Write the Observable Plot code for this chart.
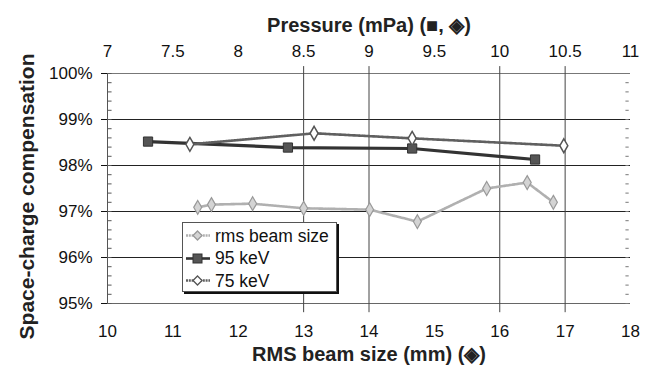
<!DOCTYPE html>
<html><head><meta charset="utf-8">
<script src="https://cdn.jsdelivr.net/npm/d3@7"></script>
<script src="https://cdn.jsdelivr.net/npm/@observablehq/plot@0.6"></script>
<style>
body{margin:0;background:#fff;font-family:"Liberation Sans",Arial,sans-serif}
#wrap{position:relative;width:654px;height:385px}
#legend{position:absolute;left:182px;top:222px;width:153px;height:68px;border:1px solid #555;box-shadow:2px 2px 0 #111;background:#fff;font-size:17.5px;color:#111}
#legend div{position:absolute;left:0;height:22px;display:flex;align-items:center}
#legend svg{margin-right:2px}
</style></head><body><div id="wrap"></div>
<script>
// RMS beam size series (bottom axis, mm)
const rmsSize = [11.38, 11.59, 12.22, 13.00, 14.01, 14.74, 15.80, 16.42, 16.82];
const rmsComp = [97.09, 97.15, 97.17, 97.07, 97.04, 96.78, 97.50, 97.63, 97.20];
// 95 keV and 75 keV series (top axis, pressure mPa)
const p95 = [7.31, 8.38, 9.33, 10.27];
const c95 = [98.52, 98.39, 98.37, 98.13];
const p75 = [7.63, 8.58, 9.33, 10.49];
const c75 = [98.46, 98.70, 98.59, 98.43];
// axes
const mmTicks = [10, 11, 12, 13, 14, 15, 16, 17, 18];
const pressureTicks = [7, 7.5, 8, 8.5, 9, 9.5, 10, 10.5, 11];
const yTicks = [95, 96, 97, 98, 99, 100];
const vGrid = [13, 14, 16, 17];
const hGrid = [96, 97, 98, 99];
const yMinor = d3.range(95, 100.001, 0.2);
const seriesNames = ["rms beam size", "95 keV", "75 keV"];

// both axes share the same pixel span: 7..11 mPa <-> 10..18 mm
const pToMm = p => 10 + (p - 7) * 2;
const mmToP = m => 7 + (m - 10) / 2;

const rms = rmsSize.map((x, i) => ({x, y: rmsComp[i]}));
const k95 = p95.map((p, i) => ({x: pToMm(p), y: c95[i]}));
const k75 = p75.map((p, i) => ({x: pToMm(p), y: c75[i]}));

const plot = Plot.plot({
  width: 654, height: 385,
  marginLeft: 107, marginRight: 24, marginTop: 73, marginBottom: 82,
  style: {fontFamily: '"Liberation Sans", Arial, sans-serif', fontSize: "17px", color: "#111", background: "#fff"},
  x: {domain: [10, 18]},
  y: {domain: [95, 100]},
  marks: [
    Plot.ruleY(hGrid, {stroke: "#222", strokeWidth: 1.2, strokeOpacity: 1}),
    Plot.ruleY([100], {stroke: "#777", strokeWidth: 1}),
    Plot.ruleY([95], {stroke: "#666", strokeWidth: 1}),
    Plot.ruleX(vGrid, {y1: 94.8, y2: 100.15, stroke: "#444", strokeWidth: 1}),
    Plot.ruleX([10], {stroke: "#555", strokeWidth: 1}),
    Plot.ruleY(yMinor, {x1: 10, x2: 10.07, stroke: "#555"}),
    Plot.ruleY(yMinor, {x1: 17.93, x2: 17.98, stroke: "#777"}),
    Plot.axisY(yTicks, {anchor: "left", tickSize: 6, tickPadding: 9, tickFormat: d => d + "%", label: null, fontSize: 17}),
    Plot.axisX(mmTicks, {anchor: "bottom", tickSize: 0, tickPadding: 21, label: null, fontSize: 17}),
    Plot.axisX(pressureTicks.map(pToMm), {anchor: "top", tickSize: 0, tickPadding: 17, tickFormat: d => String(mmToP(d)), label: null, fontSize: 17}),
    // rms beam size
    Plot.line(rms, {x: "x", y: "y", stroke: "#b0b0b0", strokeWidth: 2.6, strokeDasharray: "2 0.8"}),
    Plot.dot(rms, {x: "x", y: "y", symbol: "diamond", r: 4.2, fill: "#d4d4d4", stroke: "#999", strokeWidth: 1.2}),
    // 95 keV
    Plot.line(k95, {x: "x", y: "y", stroke: "#333", strokeWidth: 3.2}),
    Plot.dot(k95, {x: "x", y: "y", symbol: "square", r: 5.2, fill: "#555", stroke: "#333", strokeWidth: 1}),
    // 75 keV
    Plot.line(k75, {x: "x", y: "y", stroke: "#606060", strokeWidth: 2.6, strokeDasharray: "2 0.8"}),
    Plot.dot(k75, {x: "x", y: "y", symbol: "diamond", r: 4.2, fill: "#fff", stroke: "#555", strokeWidth: 1.5}),
    // titles
    Plot.text(["Pressure (mPa) (\u25A0, \u25C8)"], {frameAnchor: "top", dy: -56, fontWeight: "bold", fontSize: 20, fill: "#222"}),
    Plot.text(["RMS beam size (mm) (\u25C8)"], {frameAnchor: "bottom", dy: 57, fontWeight: "bold", fontSize: 20, fill: "#222"}),
    Plot.text(["Space-charge compensation"], {frameAnchor: "left", textAnchor: "middle", dx: -80, dy: 8, rotate: -90, fontWeight: "bold", fontSize: 21, fill: "#222"})
  ]
});
document.getElementById("wrap").appendChild(plot);

// legend
const legend = document.createElement("div");
legend.id = "legend";
const styles = [
  {stroke: "#b0b0b0", dash: "2 0.8", sym: "diamond", fill: "#d4d4d4", sStroke: "#999"},
  {stroke: "#333", dash: null, sym: "square", fill: "#555", sStroke: "#333"},
  {stroke: "#606060", dash: "2 0.8", sym: "diamond", fill: "#fff", sStroke: "#555"}
];
seriesNames.forEach((name, i) => {
  const s = styles[i];
  const row = document.createElement("div");
  row.style.top = (2 + i * 22.5) + "px";
  const marker = s.sym === "square"
    ? `<rect x="10" y="6" width="9" height="9" fill="${s.fill}" stroke="${s.sStroke}"/>`
    : `<path d="M14.5 6 L19 10.5 L14.5 15 L10 10.5 Z" fill="${s.fill}" stroke="${s.sStroke}" stroke-width="1.3"/>`;
  row.innerHTML = `<svg width="30" height="22"><line x1="3" x2="27" y1="10.5" y2="10.5" stroke="${s.stroke}" stroke-width="2.6" ${s.dash ? `stroke-dasharray="${s.dash}"` : ""}/>${marker}</svg><span>${name}</span>`;
  legend.appendChild(row);
});
document.getElementById("wrap").appendChild(legend);
</script>
</body></html>
